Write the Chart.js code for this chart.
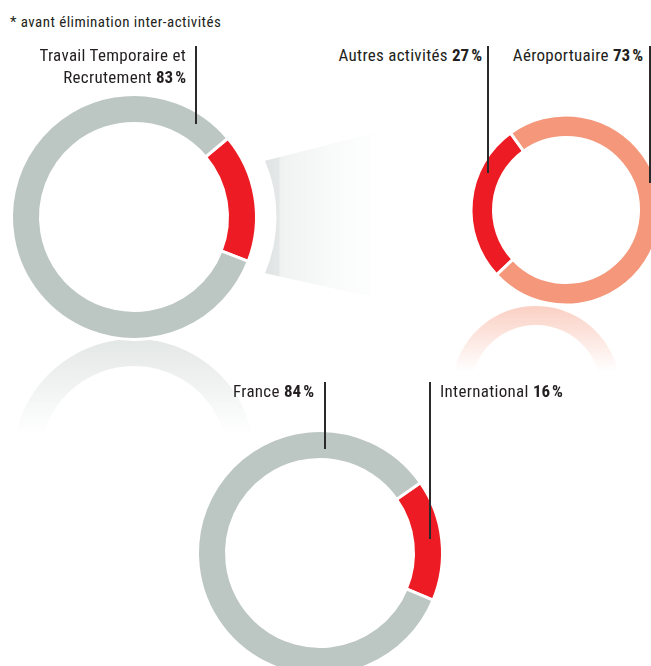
<!DOCTYPE html>
<html lang="fr">
<head>
<meta charset="utf-8">
<script src="https://cdn.jsdelivr.net/npm/chart.js@4.4.1/dist/chart.umd.min.js"></script>
<style>
html,body{margin:0;padding:0;background:#fff;}
body{width:651px;height:666px;position:relative;overflow:hidden;
     font-family:"Liberation Sans Narrow","Roboto Condensed","Liberation Sans",sans-serif;color:#231f20;}
canvas{position:absolute;}
.lbl{position:absolute;font-size:17px;line-height:22px;letter-spacing:0.3px;white-space:pre-line;z-index:4;}
.lbl b{font-weight:700;letter-spacing:0;}
.right{text-align:right;}
.lead{position:absolute;width:1.5px;background:#2a2a2a;z-index:5;}
.note{position:absolute;left:10px;top:13px;font-size:15px;line-height:18px;letter-spacing:0.45px;}
</style>
</head>
<body>
<div class="note">* avant élimination inter-activités</div>

<canvas id="refl1" width="260" height="260" style="left:4px;top:330px"></canvas>
<canvas id="refl2" width="180" height="180" style="left:446px;top:300px"></canvas>
<canvas id="ring1" width="400" height="260" style="left:4px;top:87px"></canvas>
<canvas id="ring2" width="200" height="200" style="left:466px;top:110px"></canvas>
<canvas id="ring3" width="260" height="260" style="left:190px;top:423px"></canvas>

<div id="l1" class="lbl right" style="right:465px;top:44px"></div>
<div id="l2a" class="lbl right" style="right:169px;top:44px"></div>
<div id="l2b" class="lbl right" style="right:8px;top:44px"></div>
<div id="l3a" class="lbl right" style="right:337px;top:380px"></div>
<div id="l3b" class="lbl" style="left:440px;top:380px"></div>

<div class="lead" style="left:195px;top:46px;height:78px"></div>
<div class="lead" style="left:487px;top:46px;height:127px"></div>
<div class="lead" style="left:649px;top:46px;height:137px"></div>
<div class="lead" style="left:324px;top:382px;height:67px"></div>
<div class="lead" style="left:429px;top:382px;height:157px"></div>

<script>
// métiers (donut du haut à gauche)
const metiersLabels = ['Autres', 'Travail Temporaire et\nRecrutement'];
const metiersValues = [17, 83];
// détail des autres activités
const autresLabels = ['Autres activités', 'Aéroportuaire'];
const autresValues = [27, 73];
// répartition géographique
const geoLabels = ['International', 'France'];
const geoValues = [16, 84];

const GRAY = '#bcc6c3', RED = '#ed1c24', SALMON = '#f4977a';

function pct(v) { return '<b>' + v + '\u202f%</b>'; }
document.getElementById('l1').innerHTML  = metiersLabels[1] + ' ' + pct(metiersValues[1]);
document.getElementById('l2a').innerHTML = autresLabels[0] + ' ' + pct(autresValues[0]);
document.getElementById('l2b').innerHTML = autresLabels[1] + ' ' + pct(autresValues[1]);
document.getElementById('l3a').innerHTML = geoLabels[1] + ' ' + pct(geoValues[1]);
document.getElementById('l3b').innerHTML = geoLabels[0] + ' ' + pct(geoValues[0]);

// the grey "zoom" band between ring 1 and ring 2
const zoomBand = {
    id: 'zoomBand',
    beforeDatasetsDraw(chart) {
        const arc = chart.getDatasetMeta(0).data[0];
        if (!arc) return;
        const {x, y, outerRadius} = arc, c = chart.ctx;
        const R = outerRadius + 20, a = 0.405;
        c.save();
        const g = c.createLinearGradient(x + 128, 0, x + 254, 0);
        g.addColorStop(0, 'rgba(214,218,218,0.75)');
        g.addColorStop(0.13, 'rgba(214,218,218,0.65)');
        g.addColorStop(0.15, 'rgba(228,231,231,0.55)');
        g.addColorStop(0.5, 'rgba(238,240,240,0.45)');
        g.addColorStop(0.8, 'rgba(246,247,247,0.3)');
        g.addColorStop(1, 'rgba(255,255,255,0)');
        c.fillStyle = g;
        c.beginPath();
        c.arc(x, y, R, -a, a);
        c.lineTo(x + 252, y + 83);
        c.lineTo(x + 252, y - 87);
        c.closePath();
        c.fill();
        c.restore();
    }
};

function ring(id, labels, values, colors, rotation, outer, inner, padRight, plugins) {
    return new Chart(document.getElementById(id), {
        type: 'doughnut',
        data: { labels, datasets: [{ data: values, backgroundColor: colors,
                borderColor: '#fff', borderWidth: 3, hoverOffset: 0 }] },
        options: { responsive: false, animation: false, events: [],
            rotation, radius: outer, cutout: (inner / outer * 100) + '%',
            layout: { padding: { right: padRight || 0 } },
            plugins: { legend: { display: false }, tooltip: { enabled: false } } },
        plugins: plugins || []
    });
}

// faded mirror of a ring, only its upper half shows
function reflection(id, values, rgb, alpha, outer, inner, fade) {
    return new Chart(document.getElementById(id), {
        type: 'doughnut',
        data: { datasets: [{ data: values, borderWidth: 0,
            backgroundColor: ctx => {
                const area = ctx.chart.chartArea;
                if (!area) return 'rgba(0,0,0,0)';
                const top = (area.top + area.bottom) / 2 - outer;
                const g = ctx.chart.ctx.createLinearGradient(0, top, 0, top + fade);
                g.addColorStop(0, `rgba(${rgb},${alpha})`);
                g.addColorStop(1, `rgba(${rgb},0)`);
                return g;
            } }] },
        options: { responsive: false, animation: false, events: [],
            radius: outer, cutout: (inner / outer * 100) + '%',
            plugins: { legend: { display: false }, tooltip: { enabled: false } } }
    });
}

reflection('refl1', metiersValues, '188,198,195', 0.42, 121, 94, 95);
reflection('refl2', autresValues, '244,151,122', 0.45, 84, 65, 66);

ring('ring1', metiersLabels, metiersValues, [RED, GRAY], 50, 122.5, 93.5, 140, [zoomBand]);
ring('ring2', autresLabels, autresValues, [RED, SALMON], 227, 95, 72.5);
ring('ring3', geoLabels, geoValues, [RED, GRAY], 55, 122.5, 93.5);
</script>
</body>
</html>
